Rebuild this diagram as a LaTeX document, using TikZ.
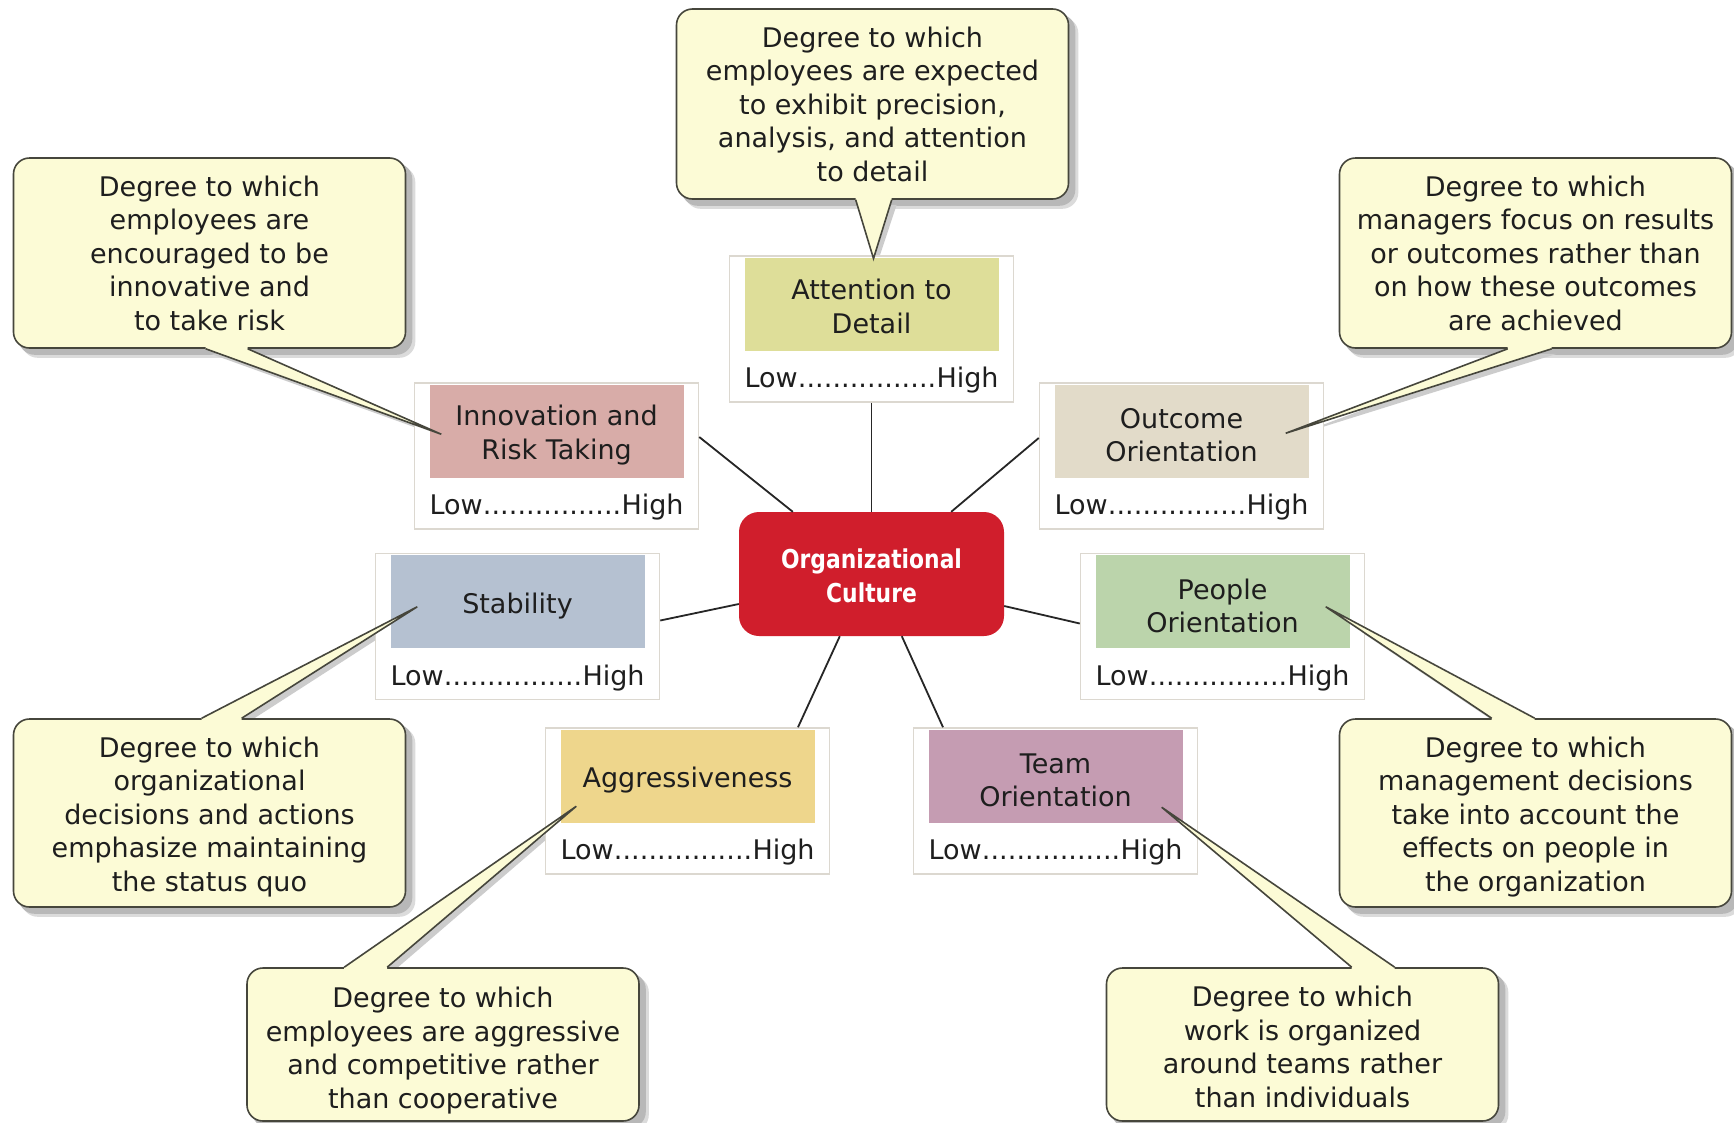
\documentclass[tikz,border=0pt]{standalone}
\usepackage{fontspec}
\setmainfont{DejaVu Sans}
\newfontfamily\orgfont{DejaVu Sans}[FakeStretch=0.84]
\usetikzlibrary{calc}
\pgfdeclarelayer{back}
\pgfdeclarelayer{bg}
\pgfsetlayers{back,bg,main}

\definecolor{cfill}{RGB}{252,251,214}
\definecolor{cline}{RGB}{70,70,60}
\definecolor{tcol}{RGB}{30,30,30}
\definecolor{attncol}{RGB}{222,222,153}
\definecolor{inncol}{RGB}{216,172,168}
\definecolor{outcol}{RGB}{226,219,201}
\definecolor{stabcol}{RGB}{181,193,209}
\definecolor{peocol}{RGB}{187,212,171}
\definecolor{aggcol}{RGB}{238,214,140}
\definecolor{teamcol}{RGB}{197,156,178}
\definecolor{orgcol}{RGB}{208,30,44}
\definecolor{boxline}{RGB}{220,216,208}

\newcommand\lowhigh{\makebox[254pt]{Low\xleaders\hbox to 8.2pt{\hss.\hss}\hfill High}}

\newcommand\cshadow[1]{%
  \begin{pgfonlayer}{bg}
    \fill[black!14, rounded corners=16pt] ($(#1.north west)+(9,9)$) rectangle ($(#1.south east)+(9,9)$);
    \fill[black!28, rounded corners=16pt] ($(#1.north west)+(6,6)$) rectangle ($(#1.south east)+(6,6)$);
  \end{pgfonlayer}}

\newcommand\ptr[4]{%
  \begin{pgfonlayer}{bg}
    \fill[black!20] ($(#1)+(5,5)$) -- ($(#3)+(4,4)$) -- ($(#2)+(5,5)$) -- cycle;
  \end{pgfonlayer}
  \fill[cfill] ($(#1)+(0,#4)$) -- (#1) -- (#3) -- (#2) -- ($(#2)+(0,#4)$) -- cycle;
  \draw[ptrline] (#1) -- (#3) -- (#2);}

\tikzset{
  txt/.style={font=\fontsize{27}{33.5}\selectfont, text=tcol},
  callbox/.style={draw=cline, line width=1.6pt, fill=cfill, rounded corners=16pt,
    minimum width=392pt, inner sep=0pt},
  ctext/.style={txt, align=center, inner sep=0pt},
  outerbox/.style={draw=boxline, line width=1.5pt, fill=white, minimum width=284pt,
    minimum height=146pt, inner sep=0pt},
  colbox/.style={minimum width=254pt, minimum height=93pt, inner sep=0pt},
  coltext/.style={txt, align=center, inner sep=0pt},
  lhtext/.style={txt, inner sep=0pt},
  orgbox/.style={fill=orgcol, rounded corners=20pt, minimum width=265pt, minimum height=124pt,
    inner sep=0pt},
  orgtext/.style={align=center, text=white, inner sep=0pt,
    font=\orgfont\bfseries\fontsize{26}{33.5}\selectfont},
  link/.style={draw=black!85, line width=1.8pt},
  ptrline/.style={draw=cline, line width=1.6pt},
}

\begin{document}
\begin{tikzpicture}[x=1pt,y=-1pt]
\begin{pgfonlayer}{back}
  \fill[white] (0,0) rectangle (1734,1122);
\end{pgfonlayer}
\useasboundingbox (0,0) rectangle (1734,1122);

% centre
\node[orgbox] (org) at (871.5,574) {};
\node[orgtext] (orgt) at ($(org.center)+(0,2)$) {Organizational\\Culture};

% dimension boxes
\node[outerbox] (attn) at (871.5,329) {};
\node[colbox, fill=attncol] (attnc) at ($(attn.north)+(0,49)$) {};
\node[coltext] (attnt) at ($(attnc.center)+(0,2)$) {Attention to\\Detail};
\node[lhtext] (attnl) at ($(attn.north)+(0,125)$) {\lowhigh};

\node[outerbox] (inn) at (556.5,456) {};
\node[colbox, fill=inncol] (innc) at ($(inn.north)+(0,49)$) {};
\node[coltext] (innt) at ($(innc.center)+(0,4)$) {Innovation and\\Risk Taking};
\node[lhtext] (innl) at ($(inn.north)+(0,125)$) {\lowhigh};

\node[outerbox] (out) at (1181.5,456) {};
\node[colbox, fill=outcol] (outc) at ($(out.north)+(0,49)$) {};
\node[coltext] (outt) at ($(outc.center)+(0,4)$) {Outcome\\Orientation};
\node[lhtext] (outl) at ($(out.north)+(0,125)$) {\lowhigh};

\node[outerbox] (stab) at (517.5,626.5) {};
\node[colbox, fill=stabcol] (stabc) at ($(stab.north)+(0,49)$) {};
\node[coltext] (stabt) at ($(stabc.center)+(0,4)$) {Stability};
\node[lhtext] (stabl) at ($(stab.north)+(0,125)$) {\lowhigh};

\node[outerbox] (peo) at (1222.5,626.5) {};
\node[colbox, fill=peocol] (peoc) at ($(peo.north)+(0,49)$) {};
\node[coltext] (peot) at ($(peoc.center)+(0,4)$) {People\\Orientation};
\node[lhtext] (peol) at ($(peo.north)+(0,125)$) {\lowhigh};

\node[outerbox] (agg) at (687.5,801) {};
\node[colbox, fill=aggcol] (aggc) at ($(agg.north)+(0,49)$) {};
\node[coltext] (aggt) at ($(aggc.center)+(0,4)$) {Aggressiveness};
\node[lhtext] (aggl) at ($(agg.north)+(0,125)$) {\lowhigh};

\node[outerbox] (team) at (1055.5,801) {};
\node[colbox, fill=teamcol] (teamc) at ($(team.north)+(0,49)$) {};
\node[coltext] (teamt) at ($(teamc.center)+(0,4)$) {Team\\Orientation};
\node[lhtext] (teaml) at ($(team.north)+(0,125)$) {\lowhigh};

% connectors
\draw[link] (attn.south) -- (org.north);
\draw[link] ($(inn.east)+(0,-19)$) -- ($(org.north west)+(54,0)$);
\draw[link] ($(out.west)+(0,-18)$) -- ($(org.north east)+(-53,0)$);
\draw[link] ($(stab.east)+(0,-6)$) -- ($(org.west)+(0,30)$);
\draw[link] ($(peo.west)+(0,-3)$) -- ($(org.east)+(0,32)$);
\draw[link] ($(org.south west)+(101,0)$) -- ($(agg.north)+(110.5,0)$);
\draw[link] ($(org.south west)+(163,0)$) -- ($(team.north)+(-112.5,0)$);

% callout boxes
\node[callbox, minimum height=190pt] (cattn) at (872.5,104) {};
\node[callbox, minimum height=190pt] (cinn) at (209.5,253) {};
\node[callbox, minimum height=190pt] (cout) at (1535.5,253) {};
\node[callbox, minimum height=188pt] (cstab) at (209.5,813) {};
\node[callbox, minimum height=188pt] (cpeo) at (1535.5,813) {};
\node[callbox, minimum height=153pt] (cagg) at (443,1044.5) {};
\node[callbox, minimum height=153pt] (cteam) at (1302.5,1044.5) {};

\foreach \c in {cattn,cinn,cout,cstab,cpeo,cagg,cteam}{\cshadow{\c}}

% callout texts
\node[ctext] (cattnt) at (cattn.center)
  {Degree to which\\employees are expected\\to exhibit precision,\\analysis, and attention\\to detail};
\node[ctext] (cinnt) at (cinn.center)
  {Degree to which\\employees are\\encouraged to be\\innovative and\\to take risk};
\node[ctext] (coutt) at (cout.center)
  {Degree to which\\managers focus on results\\or outcomes rather than\\on how these outcomes\\are achieved};
\node[ctext] (cstabt) at ($(cstab.center)+(0,4)$)
  {Degree to which\\organizational\\decisions and actions\\emphasize maintaining\\the status quo};
\node[ctext] (cpeot) at ($(cpeo.center)+(0,4)$)
  {Degree to which\\management decisions\\take into account the\\effects on people in\\the organization};
\node[ctext] (caggt) at ($(cagg.center)+(0,6)$)
  {Degree to which\\employees are aggressive\\and competitive rather\\than cooperative};
\node[ctext] (cteamt) at ($(cteam.center)+(0,2.5)$)
  {Degree to which\\work is organized\\around teams rather\\than individuals};

% pointer coordinates
\coordinate (cattn-a) at ($(cattn.south west)+(180,0)$);
\coordinate (cattn-b) at ($(cattn.south west)+(216,0)$);
\coordinate (cattn-t) at ($(attnc.north)+(2,1)$);
\coordinate (cinn-a) at ($(cinn.south west)+(193,0)$);
\coordinate (cinn-b) at ($(cinn.south west)+(235,0)$);
\coordinate (cinn-t) at ($(innc.west)+(12,3)$);
\coordinate (cout-a) at ($(cout.south west)+(169,0)$);
\coordinate (cout-b) at ($(cout.south west)+(213,0)$);
\coordinate (cout-t) at ($(outc.east)+(-23,2)$);
\coordinate (cstab-a) at ($(cstab.north west)+(189,0)$);
\coordinate (cstab-b) at ($(cstab.north west)+(229,0)$);
\coordinate (cstab-t) at ($(stabc.west)+(27,5)$);
\coordinate (cpeo-a) at ($(cpeo.north west)+(153,0)$);
\coordinate (cpeo-b) at ($(cpeo.north west)+(196,0)$);
\coordinate (cpeo-t) at ($(peoc.east)+(-24,5)$);
\coordinate (cagg-a) at ($(cagg.north west)+(98,0)$);
\coordinate (cagg-b) at ($(cagg.north west)+(141,0)$);
\coordinate (cagg-t) at ($(aggc.west)+(16,30)$);
\coordinate (cteam-a) at ($(cteam.north west)+(246,0)$);
\coordinate (cteam-b) at ($(cteam.north west)+(289,0)$);
\coordinate (cteam-t) at ($(teamc.east)+(-21,31)$);

\ptr{cattn-a}{cattn-b}{cattn-t}{-4}
\ptr{cinn-a}{cinn-b}{cinn-t}{-4}
\ptr{cout-a}{cout-b}{cout-t}{-4}
\ptr{cstab-a}{cstab-b}{cstab-t}{4}
\ptr{cpeo-a}{cpeo-b}{cpeo-t}{4}
\ptr{cagg-a}{cagg-b}{cagg-t}{4}
\ptr{cteam-a}{cteam-b}{cteam-t}{4}
\end{tikzpicture}
\end{document}
